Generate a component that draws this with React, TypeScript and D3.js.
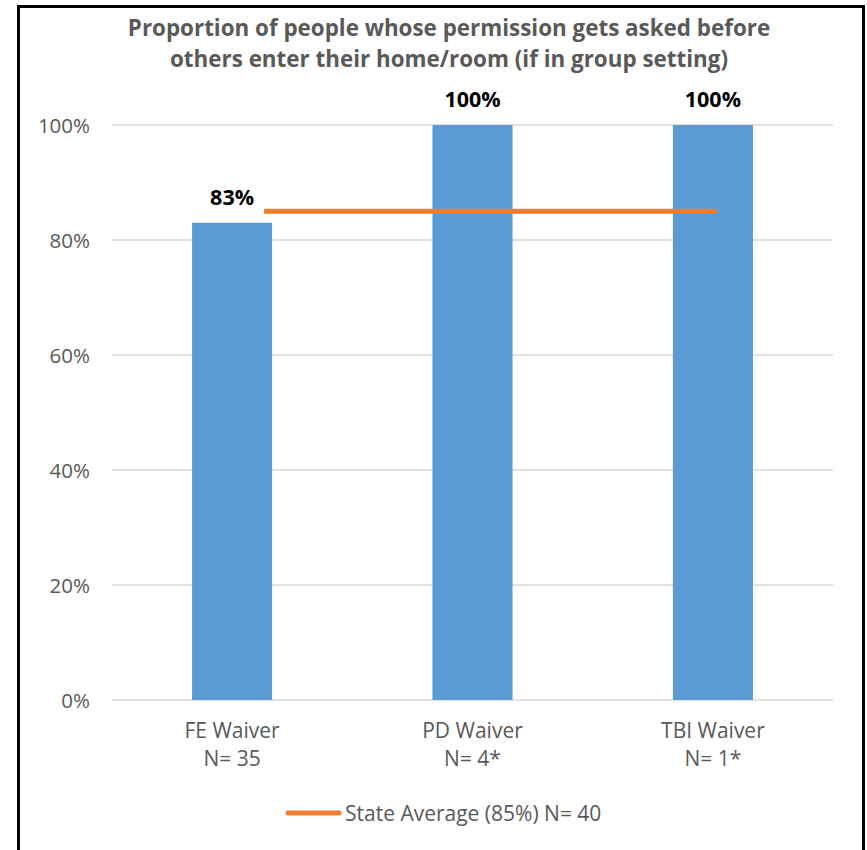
import React from "react";
import * as d3 from "d3";

const titleLines = [
  "Proportion of people whose permission gets asked before",
  "others enter their home/room (if in group setting)",
];
const categories = ["FE Waiver", "PD Waiver", "TBI Waiver"];
const sampleSizes = ["N= 35", "N= 4*", "N= 1*"];
const values = [0.83, 1.0, 1.0];
const valueLabels = ["83%", "100%", "100%"];
const yTicks = [0, 0.2, 0.4, 0.6, 0.8, 1.0];
const stateAverage = 0.85;
const legendLabel = "State Average (85%) N= 40";

const W = 867;
const H = 850;
const FONT = "'Open Sans', 'Liberation Sans', sans-serif";

export default function App() {
  const plotLeft = 112;
  const plotRight = 833;
  const plotTop = 125;
  const plotBottom = 700;

  const x = d3
    .scaleBand<string>()
    .domain(categories)
    .range([plotLeft, plotRight])
    .paddingInner(0.667)
    .paddingOuter(0.333);
  const y = d3.scaleLinear().domain([0, 1]).range([plotBottom, plotTop]);
  const fmt = d3.format(".0%");
  const center = (c: string) => (x(c) as number) + x.bandwidth() / 2;

  const avgX1 = center(categories[0]) + 32;
  const avgX2 = center(categories[categories.length - 1]) + 4;

  return (
    <svg
      width={W}
      height={H}
      style={{ position: "absolute", left: 0, top: 0, display: "block" }}
    >
      <rect x={0} y={0} width={W} height={H} fill="#ffffff" />
      {/* border */}
      <path
        d="M18.5,900 L18.5,6.5 L863.5,6.5 L863.5,900"
        fill="none"
        stroke="#000"
        strokeWidth={3}
      />
      {/* title */}
      {titleLines.map((t, i) => (
        <text
          key={i}
          x={449}
          y={36 + i * 31}
          textAnchor="middle"
          fontFamily={FONT}
          fontWeight="bold"
          fontSize={22.4}
          fill="#595959"
        >
          {t}
        </text>
      ))}
      {/* gridlines */}
      {yTicks.map((t) => (
        <g key={t}>
          <line
            x1={plotLeft}
            x2={plotRight}
            y1={y(t)}
            y2={y(t)}
            stroke="#d9d9d9"
            strokeWidth={1.5}
          />
          <text
            x={90}
            y={y(t) + 7.5}
            textAnchor="end"
            fontFamily={FONT}
            fontSize={20.5}
            fill="#595959"
          >
            {fmt(t)}
          </text>
        </g>
      ))}
      {/* bars */}
      {categories.map((c, i) => (
        <g key={c}>
          <rect
            x={x(c)}
            y={y(values[i])}
            width={x.bandwidth()}
            height={plotBottom - y(values[i])}
            fill="#5b9bd5"
          />
          <text
            x={center(c)}
            y={y(values[i]) - 18}
            textAnchor="middle"
            fontFamily={FONT}
            fontWeight="bold"
            fontSize={21.5}
            fill="#000"
          >
            {valueLabels[i]}
          </text>
          <text
            x={center(c)}
            y={738}
            textAnchor="middle"
            fontFamily={FONT}
            fontSize={21}
            fill="#595959"
          >
            {c}
          </text>
          <text
            x={center(c)}
            y={766}
            textAnchor="middle"
            fontFamily={FONT}
            fontSize={21}
            fill="#595959"
          >
            {sampleSizes[i]}
          </text>
        </g>
      ))}
      {/* state average line */}
      <line
        x1={avgX1}
        x2={avgX2}
        y1={y(stateAverage)}
        y2={y(stateAverage)}
        stroke="#ed7d31"
        strokeWidth={5}
      />
      {/* legend */}
      <line
        x1={288}
        x2={339}
        y1={813}
        y2={813}
        stroke="#ed7d31"
        strokeWidth={5}
        strokeLinecap="round"
      />
      <text
        x={345}
        y={820.5}
        fontFamily={FONT}
        fontSize={21}
        fill="#595959"
      >
        {legendLabel}
      </text>
    </svg>
  );
}
